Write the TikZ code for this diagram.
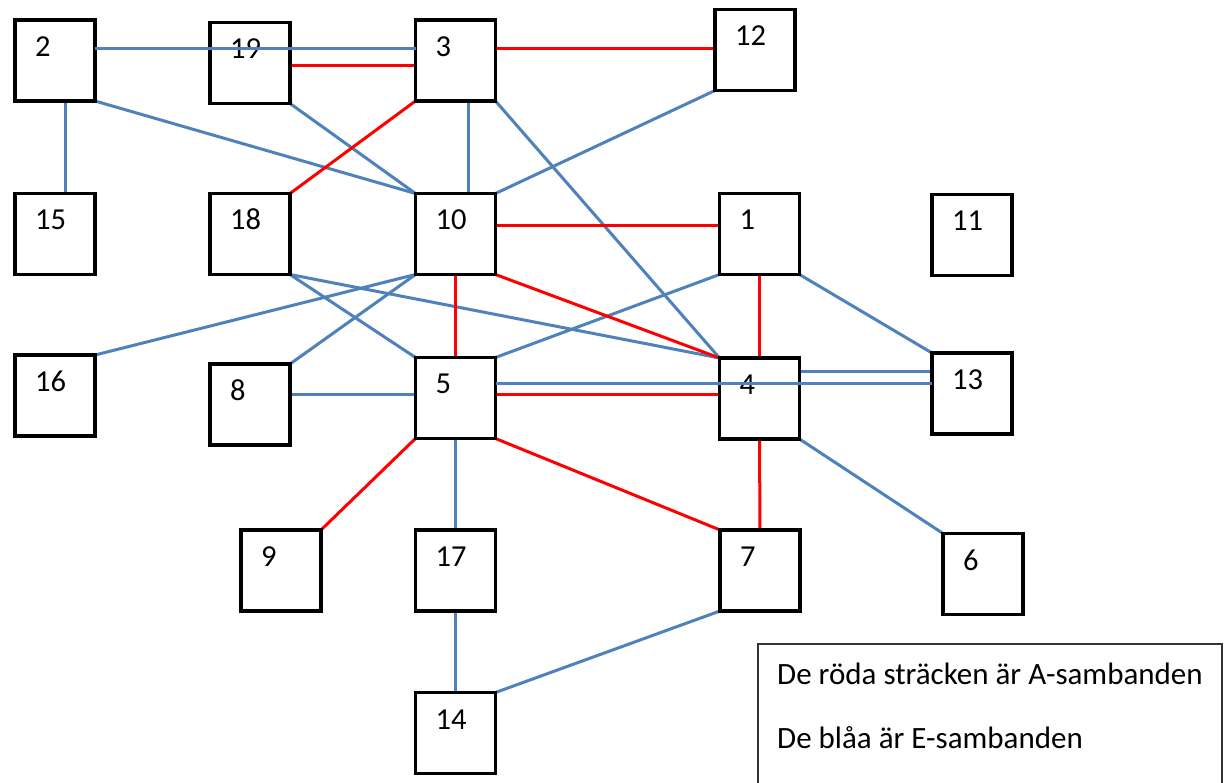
\documentclass[tikz,border=0pt]{standalone}
\usepackage{fontspec}
\setmainfont{Carlito}
\usetikzlibrary{backgrounds}
\definecolor{eblue}{HTML}{4F81BD}
\definecolor{ared}{HTML}{FF0000}
\newcommand{\numfont}{\fontsize{30.5}{36}\selectfont}
\newcommand{\legfont}{\fontsize{31}{37}\selectfont}
\begin{document}
\begin{tikzpicture}[x=1pt,y=-1pt,
  box/.style={draw=black, line width=3.5pt, minimum width=80pt, minimum height=81pt,
    inner sep=0pt, outer sep=0pt,
    label={[anchor=base west, inner sep=0pt, xshift=20pt, yshift=-36.5pt, font=\numfont]north west:#1}},
  eline/.style={draw=eblue, line width=3pt},
  aline/.style={draw=ared, line width=3pt}]
\clip (0,0) rectangle (1226,783);

% boxes
\node[box=2]  (n2)  at (55,60.5) {};
\node[box=19] (n19) at (250,63) {};
\node[box=3]  (n3)  at (455.5,60.5) {};
\node[box=12] (n12) at (755,50) {};
\node[box=15] (n15) at (55,234) {};
\node[box=18] (n18) at (250,234) {};
\node[box=10] (n10) at (455.5,234) {};
\node[box=1]  (n1)  at (759.5,234) {};
\node[box=11] (n11) at (972,235) {};
\node[box=16] (n16) at (55,395.5) {};
\node[box=8]  (n8)  at (250,404.5) {};
\node[box=5]  (n5)  at (455.5,398) {};
\node[box=4]  (n4)  at (759.5,398.5) {};
\node[box=13] (n13) at (972,393.5) {};
\node[box=9]  (n9)  at (281,570.5) {};
\node[box=17] (n17) at (455.5,570.5) {};
\node[box=7]  (n7)  at (760,570.5) {};
\node[box=6]  (n6)  at (983,574) {};
\node[box=14] (n14) at (455.5,733) {};

% legend
\node[draw=black!80, line width=1.2pt, minimum width=464pt, minimum height=160pt,
  anchor=north west, inner sep=0pt, outer sep=0pt] (legend) at (758,644) {};
\node[anchor=base west, inner sep=0pt, font=\legfont] (legA)
  at ([xshift=19pt,yshift=-40pt]legend.north west) {De röda sträcken är A-sambanden};
\node[anchor=base west, inner sep=0pt, font=\legfont] (legE)
  at ([xshift=19pt,yshift=-104pt]legend.north west) {De blåa är E-sambanden};

% the two long links that pass straight over boxes 19 and 4
\draw[eline] ([yshift=11.5pt]n2.east) -- ([yshift=11.5pt]n3.west);
\draw[eline] ([yshift=14pt]n5.east) -- ([yshift=9.5pt]n13.west);

\begin{scope}[on background layer]
\fill[white] (0,0) rectangle (1226,783);
% E-samband (blue)
\draw[eline] ([xshift=10pt]n2.south) -- ([xshift=10pt]n15.north);
\draw[eline] (n2.south east) -- (n10.north west);
\draw[eline] (n19.south east) -- (n10.north west);
\draw[eline] ([xshift=12.5pt]n3.south) -- ([xshift=12.5pt]n10.north);
\draw[eline] (n3.south east) -- (n4.north west);
\draw[eline] (n12.south west) -- (n10.north east);
\draw[eline] (n10.south west) -- (n16.north east);
\draw[eline] (n10.south west) -- (n8.north east);
\draw[eline] (n18.south east) -- (n5.north west);
\draw[eline] (n18.south east) -- (n4.north west);
\draw[eline] (n1.south west) -- (n5.north east);
\draw[eline] (n1.south east) -- (n13.north west);
\draw[eline] ([yshift=9.5pt]n8.east) -- ([yshift=3pt]n5.west);
\draw[eline] ([yshift=26.5pt]n4.east) -- ([yshift=21.5pt]n13.west);
\draw[eline] (n4.south east) -- (n6.north west);
\draw[eline] (n5.south) -- (n17.north);
\draw[eline] (n17.south) -- (n14.north);
\draw[eline] (n7.south west) -- (n14.north east);
% A-samband (red)
\draw[aline] ([yshift=-3pt]n19.east) -- ([yshift=-5.5pt]n3.west);
\draw[aline] ([yshift=11.5pt]n3.east) -- ([yshift=1pt]n12.west);
\draw[aline] (n3.south west) -- (n18.north east);
\draw[aline] ([yshift=8pt]n10.east) -- ([yshift=8pt]n1.west);
\draw[aline] (n10.south east) -- (n4.north west);
\draw[aline] (n10.south) -- (n5.north);
\draw[aline] (n1.south) -- (n4.north);
\draw[aline] ([yshift=3pt]n5.east) -- ([yshift=3.5pt]n4.west);
\draw[aline] (n5.south west) -- (n9.north east);
\draw[aline] (n5.south east) -- (n7.north west);
\draw[aline] (n4.south) -- (n7.north);
\end{scope}
\end{tikzpicture}
\end{document}
